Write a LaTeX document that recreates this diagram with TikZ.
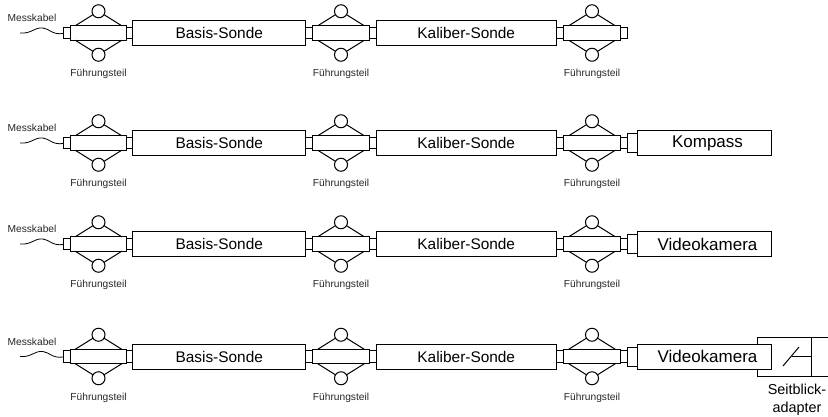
\documentclass[tikz,border=0pt]{standalone}
\usepackage{fontspec}
\setmainfont{Liberation Sans}
\usetikzlibrary{positioning}
\tikzset{
  every node/.style={inner sep=0pt, outer sep=0pt},
  sonde/.style={draw, line width=1pt, minimum height=25pt, font=\fontsize{15.4}{17}\selectfont},
  guidebody/.style={draw, line width=1pt, minimum width=56.5pt, minimum height=14.5pt},
  plugbox/.style={draw, line width=1pt, fill=white, minimum width=7pt, minimum height=11.5pt},
  wheel/.style={draw, line width=1pt, circle, minimum size=13pt},
  smalltext/.style={font=\fontsize{10.2}{12}\selectfont, text=black!85},
}
% one guide piece with its wheels and label
\newcommand{\guidepiece}[2]{
  \node [guidebody] (#2) at (#1,0) {};
  \node [wheel, above=8pt of #2] (#2up) {};
  \node [wheel, below=8pt of #2] (#2low) {};
  \coordinate (#2a) at ([xshift=5pt]#2.north west);
  \coordinate (#2b) at ([xshift=-5pt]#2.north east);
  \coordinate (#2c) at ([xshift=5pt]#2.south west);
  \coordinate (#2d) at ([xshift=-5pt]#2.south east);
  \draw [line width=1pt] (#2a)--(#2up) (#2b)--(#2up) (#2c)--(#2low) (#2d)--(#2low);
  \node [smalltext] (#2text) at (#1,41) {Führungsteil};
}
\begin{document}
\begin{tikzpicture}[x=1pt,y=-1pt]
  \useasboundingbox (0,0) rectangle (828,416);
  \foreach \rowy in {33,143,244,356.5}{
    \begin{scope}[shift={(0,\rowy)}]
      \guidepiece{98.5}{ga}
      \guidepiece{341}{gb}
      \guidepiece{592}{gc}
      \node [plugbox, left=0pt of ga] (pa) {};
      \node [plugbox, right=0pt of ga, minimum width=6pt] (pb) {};
      \node [plugbox, left=0pt of gb] (pc) {};
      \node [plugbox, right=0pt of gb] (pd) {};
      \node [plugbox, left=0pt of gc] (pe) {};
      \node [plugbox, right=0pt of gc] (pf) {};
      \node [sonde, minimum width=173pt, right=0pt of pb] (basis) {Basis-Sonde};
      \node [sonde, minimum width=180pt, right=0pt of pd] (kaliber) {Kaliber-Sonde};
      \node [smalltext] (mess) at (32,-15) {Messkabel};
      \coordinate (kabel) at (20,0);
      \draw [line width=0.8pt] (kabel) .. controls (32,1) and (34,-6) .. (43,-5) .. controls (50,-4) and (52,2) .. (pa);
    \end{scope}
  }
  % Kompass and cameras
  \foreach \rowy/\name in {143/Kompass,244/Videokamera,356.5/Videokamera}{
    \begin{scope}[shift={(0,\rowy)}]
      \node [plugbox, minimum width=10pt, minimum height=19pt] (pg) at (632,0) {};
      \node [sonde, minimum width=134pt, anchor=west, font=\fontsize{17}{19}\selectfont] (geraet) at (637,0) {\hspace*{7pt}\name};
    \end{scope}
  }
  % side view adapter
  \coordinate (adaptl) at (757,344);
  \coordinate (adaptm) at (757,370);
  \draw [line width=1pt] (adaptl) -- (757,337) -- (828,337);
  \draw [line width=1pt] (adaptm) -- (757,376) -- (828,376);
  \draw [line width=1pt] (811,337) -- (811,376);
  \coordinate (mirrora) at (783,366);
  \coordinate (mirrorb) at (799,347);
  \coordinate (mirrorc) at (792,356);
  \draw [line width=1pt] (mirrora) -- (mirrorb);
  \draw [line width=1pt] (mirrorc) -- (811,356);
  \node [font=\fontsize{14.4}{18}\selectfont, align=center, anchor=north] (seitblick) at (797,384.5) {Seitblick-\\adapter};
\end{tikzpicture}
\end{document}
